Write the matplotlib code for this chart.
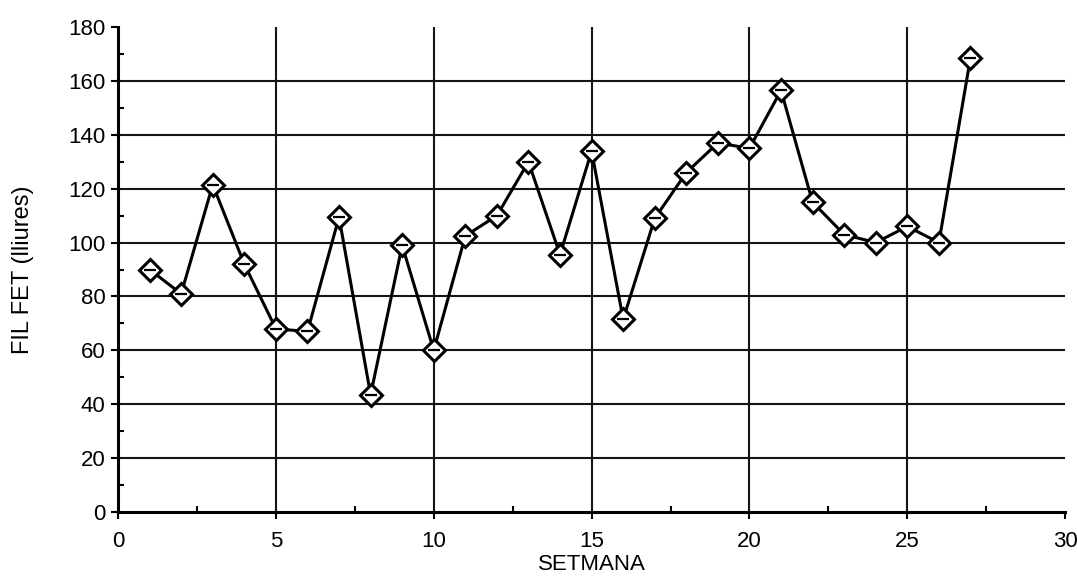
import matplotlib
matplotlib.use("Agg")
import matplotlib.pyplot as plt
from matplotlib.ticker import MultipleLocator

plt.rcParams["font.family"] = ["Liberation Sans", "DejaVu Sans"]

# weekly values
setmana = list(range(1, 28))
fil_fet = [90, 81, 121.5, 92, 68, 67, 109.5, 43.5, 99, 60,
           102.5, 110, 130, 95.5, 134, 71.5, 109, 126, 137, 135,
           156.5, 115, 103, 100, 106, 100, 168.5]

fig = plt.figure(figsize=(10.77, 5.77), dpi=100)
ax = fig.add_axes([0.1096, 0.1127, 0.8794, 0.8403])

ax.set_xlim(0, 30)
ax.set_ylim(0, 180)

# grid: horizontal every 20, vertical every 5
for y in range(20, 180, 20):
    ax.axhline(y, color="#151515", lw=1.5, zorder=1)
for x in range(5, 30, 5):
    ax.axvline(x, color="#151515", lw=1.5, zorder=1)

ax.plot(setmana, fil_fet, color="black", lw=2.2, marker="D", ms=11,
        mfc="white", mec="black", mew=2.2, zorder=3)
ax.plot(setmana, fil_fet, ls="none", marker="_", ms=8, mec="black",
        mew=1.6, zorder=4)

ax.xaxis.set_major_locator(MultipleLocator(5))
ax.xaxis.set_minor_locator(MultipleLocator(2.5))
ax.yaxis.set_major_locator(MultipleLocator(20))
ax.yaxis.set_minor_locator(MultipleLocator(10))

for s in ("top", "right"):
    ax.spines[s].set_visible(False)
for s in ("left", "bottom"):
    ax.spines[s].set_linewidth(2.2)

ax.tick_params(which="major", direction="out", length=5, width=1.5,
               labelsize=16, pad=4)
ax.tick_params(axis="x", which="major", pad=9)
ax.tick_params(which="minor", direction="in", length=4, width=1.5)

ax.set_xlabel("SETMANA", fontsize=16, labelpad=1)
ax.set_ylabel("FIL FET (lliures)", fontsize=17, labelpad=25)

fig.savefig("out.png", dpi=100)
